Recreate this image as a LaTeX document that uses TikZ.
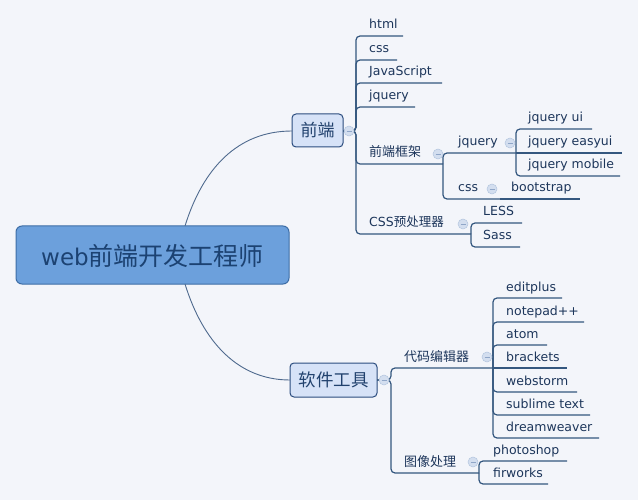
\documentclass[tikz,border=0pt]{standalone}
\usepackage{fontspec}
\setmainfont{DejaVu Sans}
\newfontfamily\cjk{Noto Sans CJK SC}
\definecolor{bg}{HTML}{F3F5FA}
\definecolor{rootfill}{HTML}{6CA0DC}
\definecolor{rootdraw}{HTML}{3D6DA6}
\definecolor{roottext}{HTML}{1C4272}
\definecolor{subfill}{HTML}{D6E2F7}
\definecolor{subdraw}{HTML}{2B4C7E}
\definecolor{subtext}{HTML}{22426E}
\definecolor{linec}{HTML}{34577F}
\definecolor{curvec}{HTML}{4F6A8E}
\definecolor{leaftext}{HTML}{1D365B}
\definecolor{colfill}{HTML}{D3DEEF}
\definecolor{coldraw}{HTML}{B3C5DE}
\definecolor{colminus}{HTML}{8FA6C8}
\newcommand{\zh}[1]{{\cjk #1}}
\tikzset{
  leaf/.style={inner sep=0pt, anchor=base west, text=leaftext, font=\fontsize{12.5}{14}\selectfont},
  leafzh/.style={leaf, font=\fontsize{13}{14}\selectfont\cjk},
  conn/.style={draw=linec, line width=1.2pt, rounded corners=4pt},
  curve/.style={draw=curvec, line width=0.9pt},
  subbox/.style={draw=subdraw, fill=subfill, line width=1pt, rounded corners=4pt},
  collapse/.style={circle, minimum size=10pt, inner sep=0pt, fill=colfill, draw=coldraw, line width=0.5pt,
    path picture={\draw[colminus, line width=0.8pt] ([xshift=-2.5pt]path picture bounding box.center) -- ([xshift=2.5pt]path picture bounding box.center);}},
}
\begin{document}
\begin{tikzpicture}[x=1pt,y=-1pt]
\fill[bg] (0,0) rectangle (638,500);
\useasboundingbox (0,0) rectangle (638,500);

% root
\draw[draw=rootdraw, fill=rootfill, line width=1pt, rounded corners=6pt] (16,226) rectangle (289,284);
\node[inner sep=0pt, text=roottext] (root) at (152.5,256) {\fontsize{23}{26}\selectfont web\fontsize{25}{26}\selectfont\cjk 前端开发工程师};
\coordinate (root-top) at (185,226);
\coordinate (root-bot) at (185,284);

% level-1 boxes
\draw[subbox] (292,114) rectangle (343,147);
\node[inner sep=0pt, text=subtext, font=\fontsize{17}{18}\selectfont\cjk] (fd) at (317.5,130.5) {前端};
\coordinate (fd-in) at (292,131);
\coordinate (fd-out) at (343,131);
\draw[subbox] (290,363) rectangle (377,397);
\node[inner sep=0pt, text=subtext, font=\fontsize{17.5}{18}\selectfont\cjk] (sw) at (333.5,380) {软件工具};
\coordinate (sw-in) at (290,380);
\coordinate (sw-out) at (377,380);

\draw[curve] (root-top) .. controls (203,168) and (238,131) .. (fd-in);
\draw[curve] (root-bot) .. controls (203,342) and (238,380) .. (sw-in);

% 前端 children
\draw[conn] (fd-out) -- (356,131) -- (356,36) -- (403,36);
\draw[conn] (fd-out) -- (356,131) -- (356,60) -- (397,60);
\draw[conn] (fd-out) -- (356,131) -- (356,83) -- (442,83);
\draw[conn] (fd-out) -- (356,131) -- (356,107) -- (415,107);
\draw[conn] (fd-out) -- (356,131) -- (356,164) -- (443,164);
\draw[conn] (fd-out) -- (356,131) -- (356,234) -- (471,234);
\node[leaf] (html) at (369,29) {html};
\node[leaf] (css1) at (369,53) {css};
\node[leaf] (js) at (369,76) {JavaScript};
\node[leaf] (jq1) at (369,100) {jquery};
\node[leafzh] (kj) at (369,157) {前端框架};
\node[leaf] (pre) at (369,227) {CSS\zh{预处理器}};
\coordinate (kj-out) at (443,164);
\coordinate (pre-out) at (471,234);

% 前端框架 children
\draw[conn] (kj-out) -- (443,153) -- (516,153);
\draw[conn] (kj-out) -- (443,199) -- (500,199);
\node[leaf] (jq2) at (458,146) {jquery};
\node[leaf] (css2) at (458,192) {css};
\coordinate (jq2-out) at (516,153);
\coordinate (css2-out) at (500,199);

% jquery children
\draw[conn] (jq2-out) -- (516,129) -- (592,129);
\draw[conn] (jq2-out) -- (622,153);
\draw[conn] (jq2-out) -- (516,176) -- (620,176);
\node[leaf] (jqui) at (528,122) {jquery ui};
\node[leaf] (jqez) at (528,146) {jquery easyui};
\node[leaf] (jqmb) at (528,169) {jquery mobile};

% css children
\draw[conn] (css2-out) -- (580,199);
\node[leaf] (bs) at (511,192) {bootstrap};

% CSS预处理器 children
\draw[conn] (pre-out) -- (471,223) -- (522,223);
\draw[conn] (pre-out) -- (471,247) -- (520,247);
\node[leaf] (less) at (483,216) {LESS};
\node[leaf] (sass) at (483,240) {Sass};

% 软件工具 children
\draw[conn] (sw-out) -- (391,380) -- (391,368) -- (493,368);
\draw[conn] (sw-out) -- (391,380) -- (391,473) -- (479,473);
\node[leafzh] (ed) at (404,361) {代码编辑器};
\node[leafzh] (img) at (404,466) {图像处理};
\coordinate (ed-out) at (493,368);
\coordinate (img-out) at (479,473);

% editor children
\draw[conn] (ed-out) -- (493,298) -- (562,298);
\draw[conn] (ed-out) -- (493,322) -- (584,322);
\draw[conn] (ed-out) -- (493,345) -- (547,345);
\draw[conn] (ed-out) -- (567,368);
\draw[conn] (ed-out) -- (493,392) -- (577,392);
\draw[conn] (ed-out) -- (493,415) -- (590,415);
\draw[conn] (ed-out) -- (493,438) -- (599,438);
\node[leaf] (e1) at (506,291) {editplus};
\node[leaf] (e2) at (506,315) {notepad++};
\node[leaf] (e3) at (506,338) {atom};
\node[leaf] (e4) at (506,361) {brackets};
\node[leaf] (e5) at (506,385) {webstorm};
\node[leaf] (e6) at (506,408) {sublime text};
\node[leaf] (e7) at (506,431) {dreamweaver};

% image children
\draw[conn] (img-out) -- (479,461) -- (567,461);
\draw[conn] (img-out) -- (479,484) -- (548,484);
\node[leaf] (ps) at (493,454) {photoshop};
\node[leaf] (fw) at (493,477) {firworks};

% collapse markers
\node[collapse] (c-fd) at (349,131) {};
\node[collapse] (c-kj) at (438,154) {};
\node[collapse] (c-jq) at (510,143) {};
\node[collapse] (c-css) at (492,189) {};
\node[collapse] (c-pre) at (463,224) {};
\node[collapse] (c-sw) at (384,380) {};
\node[collapse] (c-ed) at (487,357) {};
\node[collapse] (c-img) at (473,462) {};
\end{tikzpicture}
\end{document}
